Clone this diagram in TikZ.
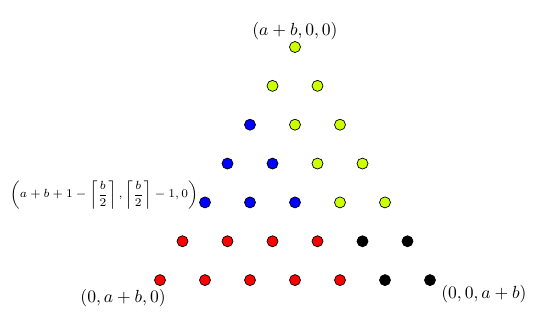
\documentclass[tikz,border=0pt]{standalone}
\usepackage{amsmath, amssymb}
\usepackage{tikz}
\usetikzlibrary{positioning}
\usepackage{xcolor}
\definecolor{dotlime}{RGB}{204, 255, 0}

\begin{document}
\begin{tikzpicture}[pt/.style={circle, draw=black, line width=0.4pt, inner sep=0pt, minimum size=0.22cm},
    lbl/.style={inner sep=0pt}]
      \useasboundingbox (-5.9,0.94) rectangle (5.06,-5.6);
      % triangle of lattice points, row by row from the top vertex
      \foreach \i in {0,...,6}
        \foreach \j in {0,...,\i} {
          \pgfmathtruncatemacro{\m}{\i-1}
          \ifnum\j<\m
            \ifnum\i<5 \def\dotcol{blue}\else\def\dotcol{red}\fi
          \else
            \ifnum\i<5 \def\dotcol{dotlime}\else\def\dotcol{black}\fi
          \fi
          \node[pt, fill=\dotcol] (p-\i-\j) at ({0.9*\j-0.45*\i}, {-0.777*\i}) {};
        }
      \node[lbl, anchor=south] (vtop) at ([yshift=0.02cm]p-0-0.north) {$(a+b,0,0)$};
      \node[lbl, anchor=east] (vleft) at (-2.58,-5.02) {$(0,a+b,0)$};
      \node[lbl, anchor=west] (vright) at (2.92,-4.94) {$(0,0,a+b)$};
      \node[lbl, anchor=east, font=\scriptsize, scale=0.96] (vmid) at (-1.93,-2.96)
        {$\left(a+b+1-\left\lceil\dfrac{b}{2}\right\rceil,\left\lceil\dfrac{b}{2}\right\rceil-1,0\right)$};
\end{tikzpicture}
\end{document}
